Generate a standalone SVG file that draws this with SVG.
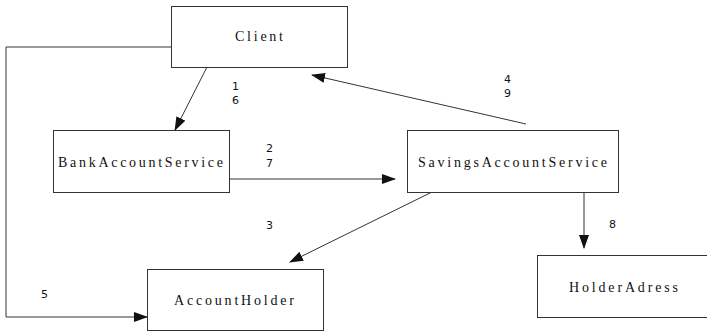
<svg xmlns="http://www.w3.org/2000/svg" width="707" height="333" viewBox="0 0 707 333">
<style>
.box{fill:#fff;stroke:#333;stroke-width:1}
.lbl{font-family:"Liberation Serif",serif;font-size:14px;fill:#111}
.num{font-family:"DejaVu Sans",sans-serif;font-size:11px;fill:#111}
.con{fill:none;stroke:#333;stroke-width:1}
</style>
<defs>
<marker id="ah" markerWidth="14" markerHeight="10" refX="13" refY="5" orient="auto" markerUnits="userSpaceOnUse">
<path d="M0,0 L14,5 L0,10 Z" fill="#111"/>
</marker>
</defs>
<rect width="707" height="333" fill="#fff"/>
<g id="connectors">
<line class="con" x1="207" y1="67" x2="175" y2="130" marker-end="url(#ah)"/>
<line class="con" x1="526" y1="124" x2="312" y2="75" marker-end="url(#ah)"/>
<line class="con" x1="229" y1="179" x2="395" y2="179" marker-end="url(#ah)"/>
<line class="con" x1="432" y1="192" x2="290" y2="262" marker-end="url(#ah)"/>
<line class="con" x1="584" y1="192" x2="584" y2="248" stroke-width="2" marker-end="url(#ah)"/>
<polyline class="con" points="171,47 6,47 6,317 147,317" marker-end="url(#ah)"/>
<text class="num" x="232" y="90">1</text>
<text class="num" x="232" y="104">6</text>
<text class="num" x="504" y="83">4</text>
<text class="num" x="504" y="97">9</text>
<text class="num" x="266" y="152">2</text>
<text class="num" x="266" y="167">7</text>
<text class="num" x="266" y="229">3</text>
<text class="num" x="41" y="298">5</text>
<text class="num" x="609" y="228">8</text>
</g>
<g id="client">
<rect class="box" x="171.5" y="6.5" width="176" height="61"/>
<text class="lbl" x="235" y="41" textLength="48" lengthAdjust="spacing">Client</text>
</g>
<g id="bankAccountService">
<rect class="box" x="53.5" y="130.5" width="176" height="62"/>
<text class="lbl" x="58" y="167" textLength="165" lengthAdjust="spacing">BankAccountService</text>
</g>
<g id="savingsAccountService">
<rect class="box" x="407.5" y="130.5" width="211" height="62"/>
<text class="lbl" x="418" y="167" textLength="189" lengthAdjust="spacing">SavingsAccountService</text>
</g>
<g id="accountHolder">
<rect class="box" x="147.5" y="269.5" width="176" height="61"/>
<text class="lbl" x="174" y="305" textLength="120" lengthAdjust="spacing">AccountHolder</text>
</g>
<g id="holderAdress">
<rect class="box" x="537.5" y="255.5" width="175" height="62"/>
<text class="lbl" x="569" y="292" textLength="109" lengthAdjust="spacing">HolderAdress</text>
</g>
</svg>
